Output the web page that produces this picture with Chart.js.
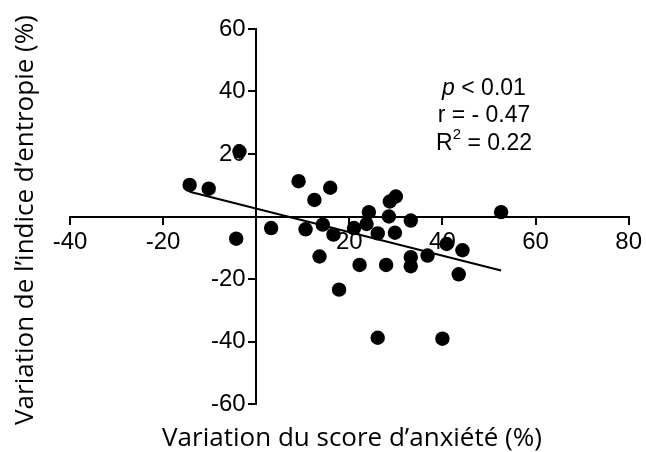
<!DOCTYPE html>
<html>
<head>
<meta charset="utf-8">
<script src="https://cdn.jsdelivr.net/npm/chart.js@4.4.0/dist/chart.umd.min.js"></script>
<style>
  html, body { margin: 0; padding: 0; background: #fff; }
  canvas { display: block; }
</style>
</head>
<body>
<canvas id="entropieChart" width="646" height="452"></canvas>
<script>
// variation du score d'anxiété (x) vs variation de l'indice d'entropie (y), en %
const anxiete = [-14.3, -10.2, -3.6, -4.3, 3.2, 9.1, 10.6, 12.5, 13.6, 14.3, 15.9, 16.6, 17.8,
  21.0, 22.2, 23.7, 24.2, 26.1, 26.1, 27.9, 28.5, 28.7, 30.0, 29.8, 33.2, 33.2, 33.2,
  36.8, 40.0, 40.9, 44.3, 43.5, 52.6];
const entropie = [10.1, 8.9, 20.8, -7.1, -3.7, 11.3, -4.1, 5.3, -12.8, -2.6, 9.2, -5.8, -23.4,
  -3.7, -15.5, -2.4, 1.4, -5.4, -38.8, -15.5, 0, 4.8, 6.4, -5.2, -1.3, -13.0, -15.9,
  -12.5, -39.1, -8.8, -10.8, -18.5, 1.4];

// droite de régression (extrémités)
const droiteX = [-14.3, 52.6];
const droiteY = [7.9, -17.3];

const xTicks = [-40, -20, 0, 20, 40, 60, 80];
const yTicks = [-60, -40, -20, 0, 20, 40, 60];

const titreX = 'Variation du score d’anxiété (%)';
const titreY = 'Variation de l’indice d’entropie (%)';

const pointsData = anxiete.map((v, i) => ({ x: v, y: entropie[i] }));
const droiteData = droiteX.map((v, i) => ({ x: v, y: droiteY[i] }));

const tickFont = { family: '"Liberation Sans", Arial, sans-serif', size: 24 };

// étiquettes de l'axe y : à gauche de l'axe, sous les points
const etiquettesY = {
  id: 'etiquettesY',
  beforeDatasetsDraw(chart) {
    const { ctx, scales: { x, y } } = chart;
    ctx.save();
    ctx.fillStyle = '#000';
    ctx.font = '24px "Liberation Sans", Arial, sans-serif';
    ctx.textAlign = 'right';
    ctx.textBaseline = 'middle';
    const axeX = x.getPixelForValue(0);
    y.ticks.forEach(t => {
      if (t.value === 0) return;
      ctx.fillText(String(t.value), axeX - 10.5, y.getPixelForValue(t.value));
    });
    ctx.restore();
  }
};

// titres des axes + stats (p, r, R²)
const texteAxes = {
  id: 'texteAxes',
  afterDraw(chart) {
    const { ctx } = chart;
    ctx.save();
    ctx.fillStyle = '#000';
    ctx.textBaseline = 'alphabetic';
    ctx.font = '26px "Open Sans", sans-serif';
    ctx.textAlign = 'center';
    ctx.fillText(titreX, 352, 446);
    ctx.save();
    ctx.translate(33, 220);
    ctx.rotate(-Math.PI / 2);
    ctx.fillText(titreY, 0, 0);
    ctx.restore();

    ctx.textAlign = 'left';
    const cx = 484;
    const f = '23px "Liberation Sans", Arial, sans-serif';
    const fi = 'italic 23px "Liberation Sans", Arial, sans-serif';
    const fs = '15px "Liberation Sans", Arial, sans-serif';

    // ligne 1 : p < 0.01
    ctx.font = fi;
    const wp = ctx.measureText('p').width;
    ctx.font = f;
    const w1 = ctx.measureText(' < 0.01').width;
    let x0 = cx - (wp + w1) / 2;
    ctx.font = fi;
    ctx.fillText('p', x0, 95);
    ctx.font = f;
    ctx.fillText(' < 0.01', x0 + wp, 95);

    // ligne 2
    ctx.textAlign = 'center';
    ctx.fillText('r = - 0.47', cx, 122);

    // ligne 3 : R² = 0.22
    ctx.textAlign = 'left';
    const wR = ctx.measureText('R').width;
    const wRest = ctx.measureText(' = 0.22').width;
    ctx.font = fs;
    const w2 = ctx.measureText('2').width;
    x0 = cx - (wR + w2 + wRest) / 2;
    ctx.font = f;
    ctx.fillText('R', x0, 149.5);
    ctx.font = fs;
    ctx.fillText('2', x0 + wR, 139);
    ctx.font = f;
    ctx.fillText(' = 0.22', x0 + wR + w2, 149.5);
    ctx.restore();
  }
};

const ctx = document.getElementById('entropieChart').getContext('2d');
new Chart(ctx, {
  type: 'scatter',
  data: {
    datasets: [
      {
        data: pointsData,
        backgroundColor: '#000',
        borderWidth: 0,
        pointRadius: 7.2,
        pointHoverRadius: 7.2
      },
      {
        type: 'line',
        data: droiteData,
        borderColor: '#000',
        borderWidth: 2,
        pointRadius: 0,
        fill: false
      }
    ]
  },
  options: {
    responsive: false,
    animation: false,
    layout: { padding: { left: 70, right: 15, top: 29, bottom: 48 } },
    plugins: {
      legend: { display: false },
      tooltip: { enabled: false }
    },
    scales: {
      x: {
        type: 'linear',
        min: -40,
        max: 80,
        position: { y: 0 },
        afterBuildTicks: s => { s.ticks = xTicks.map(v => ({ value: v })); },
        grid: { drawOnChartArea: false, drawTicks: true, tickLength: 7, color: '#000', lineWidth: 2 },
        border: { display: true, color: '#000', width: 2 },
        ticks: {
          color: '#000',
          font: tickFont,
          padding: 4,
          maxRotation: 0,
          callback: v => (v === 0 ? '' : v)
        }
      },
      y: {
        type: 'linear',
        min: -60,
        max: 60,
        position: { x: 0 },
        afterBuildTicks: s => { s.ticks = yTicks.map(v => ({ value: v })); },
        grid: { drawOnChartArea: false, drawTicks: true, tickLength: 7, color: '#000', lineWidth: 2 },
        border: { display: true, color: '#000', width: 2 },
        ticks: { display: false }
      }
    }
  },
  plugins: [etiquettesY, texteAxes]
});
</script>
</body>
</html>
